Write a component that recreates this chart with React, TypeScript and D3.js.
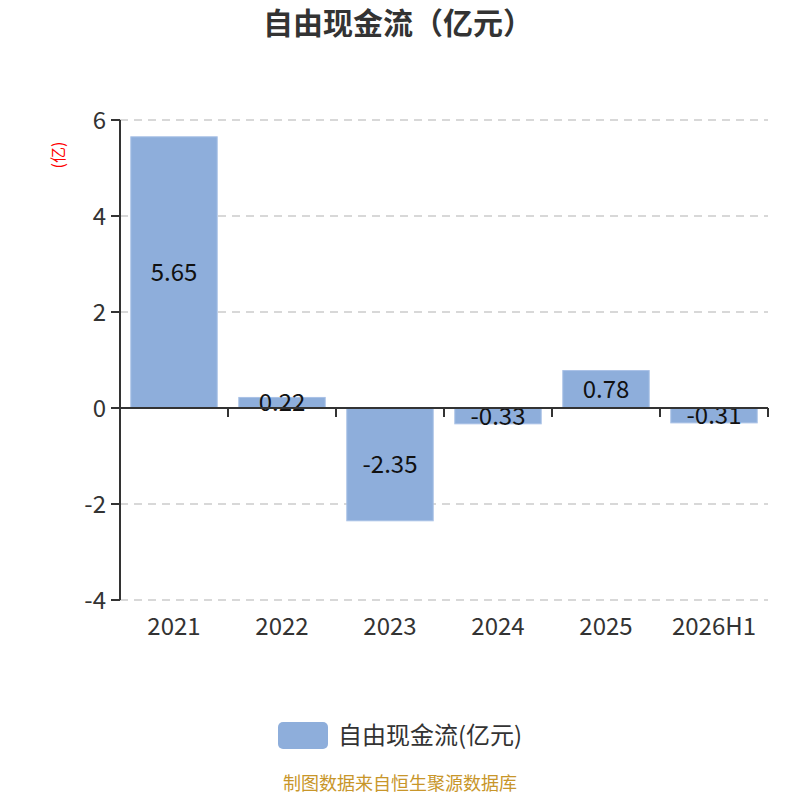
import * as d3 from "d3";
import { useRef, useEffect } from "react";

const categories = ["2021", "2022", "2023", "2024", "2025", "2026H1"];
const values = [5.65, 0.22, -2.35, -0.33, 0.78, -0.31];
const yTicks = [-4, -2, 0, 2, 4, 6];

const W = 800;
const H = 800;
const left = 120;
const right = 768;
const top = 120;
const bottom = 600;
const font = "'Noto Sans CJK SC', 'Noto Sans', sans-serif";

const App = () => {
    const svgRef = useRef(null);

    useEffect(() => {
        if (!svgRef.current) return;
        const svg = d3.select(svgRef.current);

        const x = d3.scaleBand().domain(categories).range([left, right]).paddingInner(0.2).paddingOuter(0.1);
        const y = d3.scaleLinear().domain([-4, 6]).range([bottom, top]);
        const band = (right - left) / categories.length;

        // title
        svg.append("text")
            .attr("x", W / 2 - 2).attr("y", 23).attr("dy", "0.36em")
            .attr("text-anchor", "middle")
            .attr("font-size", 30).attr("font-weight", "bold")
            .attr("fill", "#333").attr("font-family", font)
            .text("自由现金流（亿元）");

        // unit label
        svg.append("text")
            .attr("transform", "translate(58,155) rotate(-90)")
            .attr("text-anchor", "middle").attr("dy", "0.36em")
            .attr("font-size", 16).attr("fill", "red").attr("font-family", font)
            .text("(亿)");

        // grid
        svg.append("g").selectAll("line")
            .data(yTicks.filter(t => t !== 0))
            .enter().append("line")
            .attr("x1", left).attr("x2", right)
            .attr("y1", d => y(d)).attr("y2", d => y(d))
            .attr("stroke", "#ccc").attr("stroke-width", 1.5).attr("stroke-dasharray", "8,6");

        // bars
        svg.append("g").selectAll("rect")
            .data(values)
            .enter().append("rect")
            .attr("x", (d, i) => x(categories[i])!)
            .attr("width", x.bandwidth())
            .attr("y", d => y(Math.max(0, d)))
            .attr("height", d => Math.abs(y(d) - y(0)))
            .attr("fill", "#8eaedb")
            .attr("stroke", "#a9c1e6").attr("stroke-width", 1);

        // bar labels
        svg.append("g").selectAll("text")
            .data(values)
            .enter().append("text")
            .attr("x", (d, i) => x(categories[i])! + x.bandwidth() / 2)
            .attr("y", d => (y(d) + y(0)) / 2)
            .attr("dy", "0.36em")
            .attr("text-anchor", "middle")
            .attr("font-size", 24).attr("fill", "#111").attr("font-family", font)
            .text(d => d.toFixed(2));

        // y axis
        svg.append("line")
            .attr("x1", left).attr("x2", left).attr("y1", top).attr("y2", bottom)
            .attr("stroke", "#333").attr("stroke-width", 2);
        svg.append("g").selectAll("line")
            .data(yTicks).enter().append("line")
            .attr("x1", left - 9).attr("x2", left)
            .attr("y1", d => y(d)).attr("y2", d => y(d))
            .attr("stroke", "#333").attr("stroke-width", 2);
        svg.append("g").selectAll("text")
            .data(yTicks).enter().append("text")
            .attr("x", left - 14).attr("y", d => y(d))
            .attr("dy", "0.36em").attr("text-anchor", "end")
            .attr("font-size", 24).attr("fill", "#333").attr("font-family", font)
            .text(d => String(d));

        // x axis at zero
        svg.append("line")
            .attr("x1", left).attr("x2", right).attr("y1", y(0)).attr("y2", y(0))
            .attr("stroke", "#333").attr("stroke-width", 2);
        svg.append("g").selectAll("line")
            .data(d3.range(categories.length + 1)).enter().append("line")
            .attr("x1", i => left + i * band).attr("x2", i => left + i * band)
            .attr("y1", y(0)).attr("y2", y(0) + 9)
            .attr("stroke", "#333").attr("stroke-width", 2);
        svg.append("g").selectAll("text")
            .data(categories).enter().append("text")
            .attr("x", d => x(d)! + x.bandwidth() / 2)
            .attr("y", 626).attr("dy", "0.36em")
            .attr("text-anchor", "middle")
            .attr("font-size", 24).attr("fill", "#333").attr("font-family", font)
            .text(d => d);

        // legend
        svg.append("rect")
            .attr("x", 278).attr("y", 722).attr("width", 50).attr("height", 27).attr("rx", 5)
            .attr("fill", "#8eaedb");
        svg.append("text")
            .attr("x", 338).attr("y", 735).attr("dy", "0.36em")
            .attr("font-size", 24).attr("fill", "#333").attr("font-family", font)
            .text("自由现金流(亿元)");

        // source
        svg.append("text")
            .attr("x", W / 2).attr("y", 790).attr("text-anchor", "middle")
            .attr("font-size", 18).attr("fill", "#c8962a").attr("font-family", font)
            .text("制图数据来自恒生聚源数据库");

        return () => { svg.selectAll("*").remove(); };
    }, []);

    return (
        <svg width={W} height={H} ref={svgRef} style={{ display: "block", margin: -8 }}></svg>
    );
};

export default App;
